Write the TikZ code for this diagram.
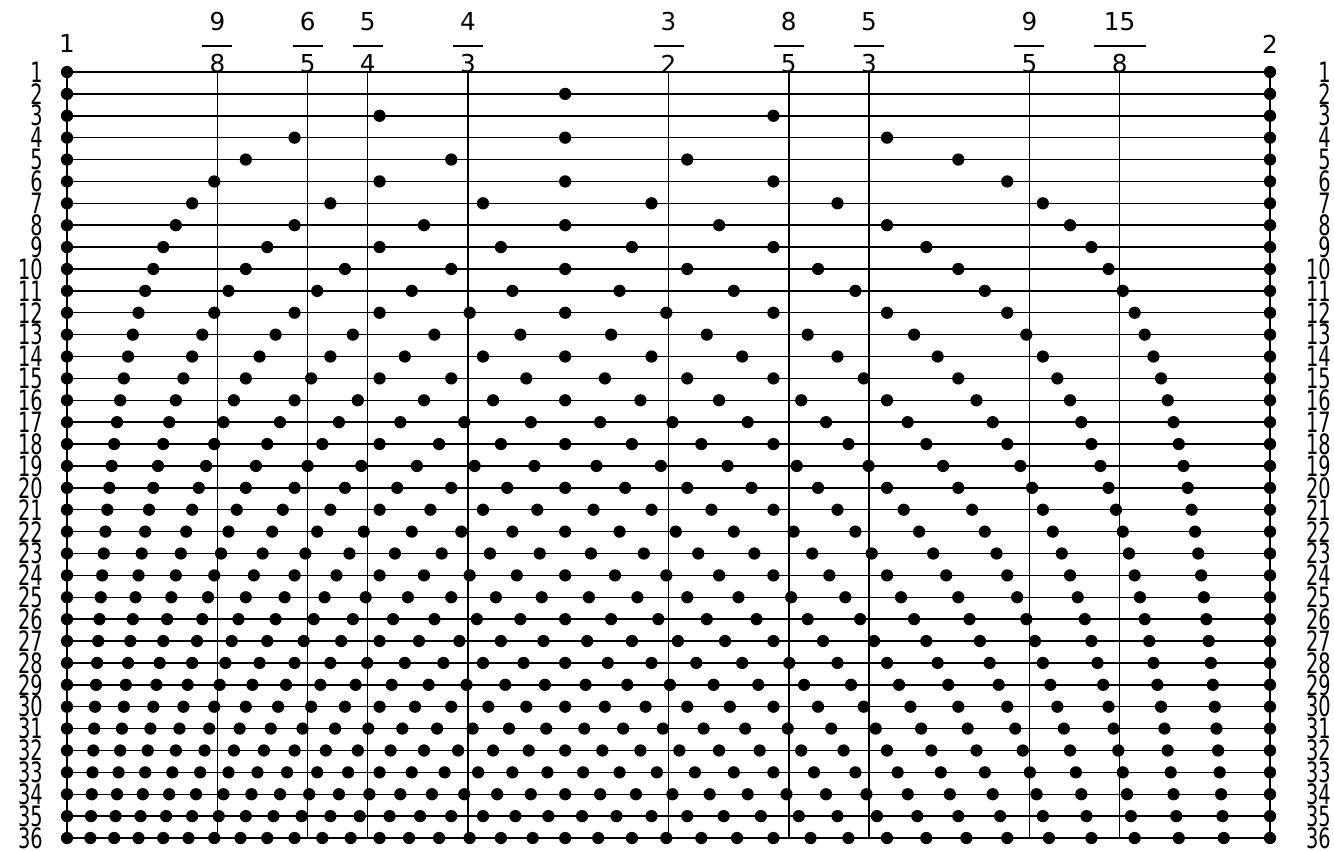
\documentclass[tikz,border=0pt]{standalone}
\usepackage{fontspec}
\setmainfont{DejaVu Sans}
\begin{document}
\begin{tikzpicture}[x=0.75pt,y=-0.75pt,
  rowline/.style={line width=1.1pt},
  ratioline/.style={line width=1.1pt},
  rowlabel/.style={inner sep=0pt, font=\fontsize{14.5}{14.5}\selectfont},
  fraclabel/.style={inner sep=0pt, font=\fontsize{18.5}{18.5}\selectfont}]
\useasboundingbox (0,0) rectangle (1334,850);
% end verticals
\coordinate (lt) at (67,72); \coordinate (lb) at (67,838);
\coordinate (rt) at (1270,72); \coordinate (rb) at (1270,838);
\draw[ratioline] (lt) -- (lb);
\draw[ratioline] (rt) -- (rb);
\node[fraclabel] (one) at (67,44) {1};
\node[fraclabel] (two) at (1270,44) {2};
% ratio lines and fractions
\foreach \num/\den/\r/\w [count=\i] in {9/8/1.125/15, 6/5/1.2/15, 5/4/1.25/15, 4/3/1.33333/15, 3/2/1.5/15, 8/5/1.6/15, 5/3/1.66667/15, 9/5/1.8/15, 15/8/1.875/26}{
  \pgfmathsetmacro\xx{67+(\r-1)*1203}
  \coordinate (vt\i) at (\xx,72);
  \coordinate (vb\i) at (\xx,838);
  \draw[ratioline] (vt\i) -- (vb\i);
  \node[fraclabel] (n\i) at (\xx,22) {\num};
  \node[fraclabel] (d\i) at (\xx,64) {\den};
  \coordinate (bl\i) at (\xx-\w,46);
  \coordinate (br\i) at (\xx+\w,46);
  \draw[line width=1.3pt] (bl\i) -- (br\i);
}
% rows
\foreach \n in {1,...,36}{
  \pgfmathsetmacro\yy{72+(\n-1)*21.886}
  \coordinate (a\n) at (67,\yy);
  \coordinate (b\n) at (1270,\yy);
  \draw[rowline] (a\n) -- (b\n);
  \node[rowlabel, anchor=east] (L\n) at (43,\yy) {\scalebox{1}[1.45]{\n}};
  \node[rowlabel, anchor=east] (R\n) at (1331,\yy) {\scalebox{1}[1.45]{\n}};
  \foreach \k in {0,...,\n}{
    \pgfmathsetmacro\xx{67+(2^(\k/\n)-1)*1203}
    \fill (\xx,\yy) circle[radius=4.6pt];
  }
}
\end{tikzpicture}
\end{document}
